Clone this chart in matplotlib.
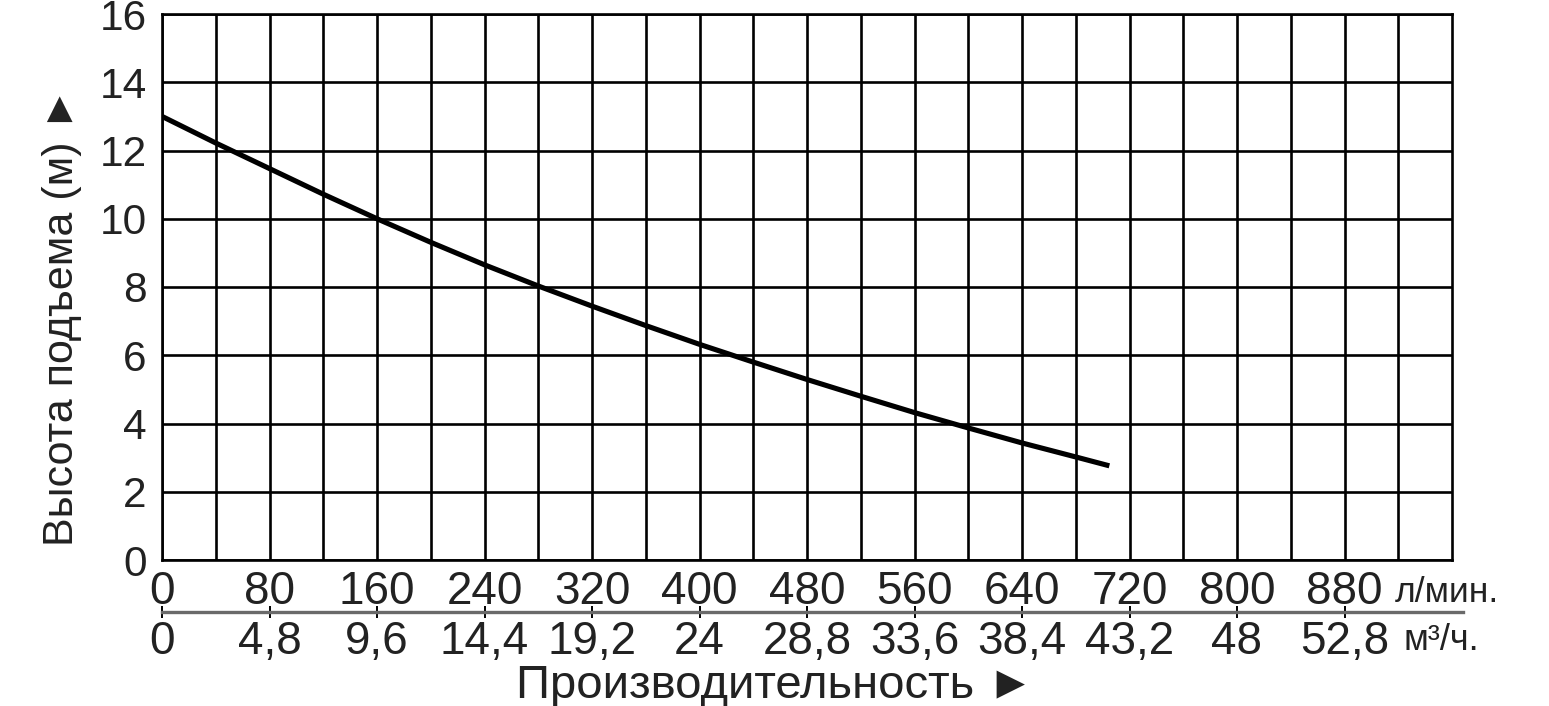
import matplotlib
matplotlib.use("Agg")
import matplotlib.pyplot as plt
import numpy as np

plt.rcParams['font.family'] = ['Liberation Sans', 'DejaVu Sans']

# ---- data ----
flow_lpm = [0, 40, 80, 120, 160, 200, 240, 280, 320, 360, 400, 440, 480,
            520, 560, 600, 640, 680, 705]
head_m = [13.0, 12.22, 11.47, 10.72, 10.0, 9.31, 8.65, 8.03, 7.44, 6.87,
          6.32, 5.80, 5.29, 4.80, 4.32, 3.87, 3.43, 3.02, 2.76]

lpm_ticks = [0, 80, 160, 240, 320, 400, 480, 560, 640, 720, 800, 880]
m3h_ticks = [0, 4.8, 9.6, 14.4, 19.2, 24, 28.8, 33.6, 38.4, 43.2, 48, 52.8]
m3h_labels = ["0", "4,8", "9,6", "14,4", "19,2", "24", "28,8", "33,6",
              "38,4", "43,2", "48", "52,8"]
y_ticks = [0, 2, 4, 6, 8, 10, 12, 14, 16]

W, H = 1549, 706
fig = plt.figure(figsize=(W / 100, H / 100), dpi=100)
L, R, T, B = 162, 1452, 14, 560
ax = fig.add_axes([L / W, 1 - B / H, (R - L) / W, (B - T) / H])

ax.set_xlim(0, 960)
ax.set_ylim(0, 16)

ax.set_xticks(lpm_ticks)
ax.set_xticks(np.arange(40, 960, 80), minor=True)
ax.set_yticks(y_ticks)
ax.set_xticklabels([str(v) for v in lpm_ticks])
ax.grid(True, which='both', color='black', linewidth=1.9)
ax.set_axisbelow(True)
for s in ax.spines.values():
    s.set_linewidth(1.9)
    s.set_color('black')

ax.tick_params(axis='x', which='both', length=0, pad=7, labelsize=33,
               labelcolor='#222222')
ax.tick_params(axis='y', length=0, pad=11, labelsize=30.5,
               labelcolor='#222222')

ax.plot(flow_lpm, head_m, color='black', linewidth=3.7,
        solid_capstyle='butt', zorder=5)

# second scale m3/h
line_y = (B - 611.7) / (B - T)
sec = ax.secondary_xaxis(line_y, functions=(lambda x: x * 0.06,
                                            lambda x: x / 0.06))
sec.set_xticks(m3h_ticks)
sec.set_xticklabels(m3h_labels)
sec.tick_params(direction='inout', length=8, width=1.4, color='black',
                pad=2, labelsize=33, labelcolor='#222222')
sec.spines['bottom'].set_visible(False)
sec.spines['top'].set_visible(False)
ax.plot([0, (1463 - L) / (R - L)], [line_y, line_y], transform=ax.transAxes,
        color='#6a6a6a', linewidth=2.4, clip_on=False, zorder=1)

# unit labels
ax.text((1395 - L) / (R - L), (B - 601.7) / (B - T), "л/мин.",
        transform=ax.transAxes, fontsize=25.5, color='#222222',
        ha='left', va='baseline')
ax.text((1403 - L) / (R - L), (B - 650) / (B - T), "м³/ч.",
        transform=ax.transAxes, fontsize=26, color='#222222',
        ha='left', va='baseline')

ax.set_ylabel("Высота подъема (м) ►", fontsize=31, color='#222222')
ax.yaxis.set_label_coords((82 - L) / (R - L), (B - 316) / (B - T))
ax.set_xlabel("Производительность ►", fontsize=34, color='#222222')
ax.xaxis.set_label_coords((775 - L) / (R - L), (B - 664) / (B - T))

fig.savefig("out.png", dpi=100, facecolor='white')
